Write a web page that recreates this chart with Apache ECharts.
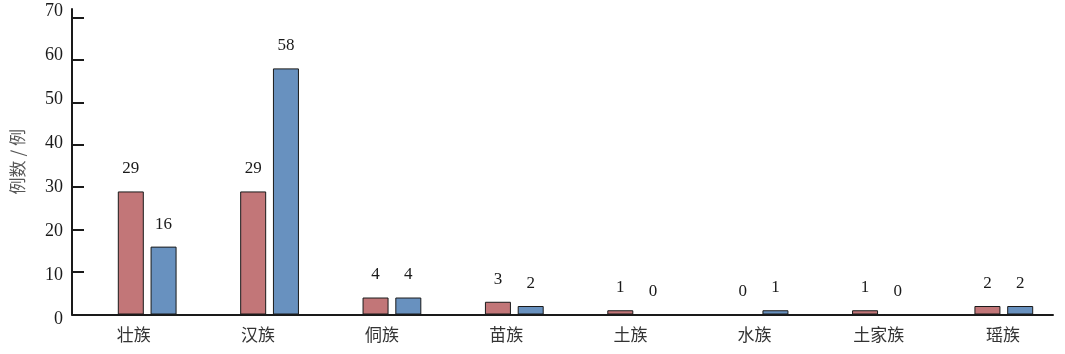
<!DOCTYPE html>
<html>
<head>
<meta charset="utf-8">
<script src="https://cdn.jsdelivr.net/npm/echarts@6/dist/echarts.min.js"></script>
<style>html,body{margin:0;padding:0;background:#fff;}#c{width:1065px;height:354px;}</style>
</head>
<body>
<div id="c"></div>
<script>
const categories = ['壮族', '汉族', '侗族', '苗族', '土族', '水族', '土家族', '瑶族'];
const seriesA = [29, 29, 4, 3, 1, 0, 1, 2];
const seriesB = [16, 58, 4, 2, 0, 1, 0, 2];
const yTicks = [0, 10, 20, 30, 40, 50, 60, 70];
const yName = '例数 / 例';

const chart = echarts.init(document.getElementById('c'));
const serif = '"Liberation Serif", "DejaVu Serif", serif';
const cjk = '"Noto Sans CJK SC", sans-serif';
const TOP = 9, BOTTOM = 39.5, YMAX = 72;

const valueLabel = {
  show: true, position: 'top', distance: 14,
  fontFamily: serif, fontSize: 17, color: '#1a1a1a'
};

chart.setOption({
  animation: false,
  grid: [
    { left: 72, right: 12, top: TOP, bottom: BOTTOM },
    { left: 86, width: 981, top: TOP, bottom: BOTTOM },
    { left: 71.7, width: 997.6, top: TOP, bottom: BOTTOM },
    { left: 72, right: 12, top: 10.8, bottom: 35 }
  ],
  xAxis: [
    { gridIndex: 0, type: 'category', data: categories,
      axisLine: { lineStyle: { color: '#1a1a1a', width: 2 } },
      axisTick: { show: false }, axisLabel: { show: false } },
    { gridIndex: 1, type: 'category', data: categories, show: false },
    { gridIndex: 2, type: 'category', data: categories,
      axisLine: { show: false }, axisTick: { show: false },
      axisLabel: { fontFamily: cjk, fontSize: 17, color: '#333', margin: 12 } },
    { gridIndex: 3, type: 'category', data: categories, show: false }
  ],
  yAxis: [
    { gridIndex: 0, type: 'value', min: 0, max: YMAX,
      name: yName, nameLocation: 'middle', nameGap: 46, nameRotate: 90,
      nameTextStyle: { fontFamily: cjk, fontSize: 17, color: '#555' },
      splitLine: { show: false },
      axisLine: { show: true, lineStyle: { color: '#1a1a1a', width: 2 } },
      axisTick: { show: true, inside: true, length: 12, customValues: yTicks,
        lineStyle: { color: '#1a1a1a', width: 2 } },
      axisLabel: { show: false } },
    { gridIndex: 1, type: 'value', min: 0, max: YMAX, show: false, splitLine: { show: false } },
    { gridIndex: 2, type: 'value', min: 0, max: YMAX, show: false, splitLine: { show: false } },
    { gridIndex: 3, type: 'value', min: 0, max: 70, interval: 10,
      splitLine: { show: false }, axisLine: { show: false }, axisTick: { show: false },
      axisLabel: { fontFamily: serif, fontSize: 18, color: '#1a1a1a', margin: 9 } }
  ],
  series: [
    { type: 'bar', xAxisIndex: 1, yAxisIndex: 1, data: seriesA,
      barWidth: 26, barGap: '26%',
      itemStyle: { color: '#c27678', borderColor: '#1a1a1a', borderWidth: 1 },
      label: valueLabel },
    { type: 'bar', xAxisIndex: 1, yAxisIndex: 1, data: seriesB,
      barWidth: 26,
      itemStyle: { color: '#6891bf', borderColor: '#1a1a1a', borderWidth: 1 },
      label: valueLabel }
  ]
});
</script>
</body>
</html>
